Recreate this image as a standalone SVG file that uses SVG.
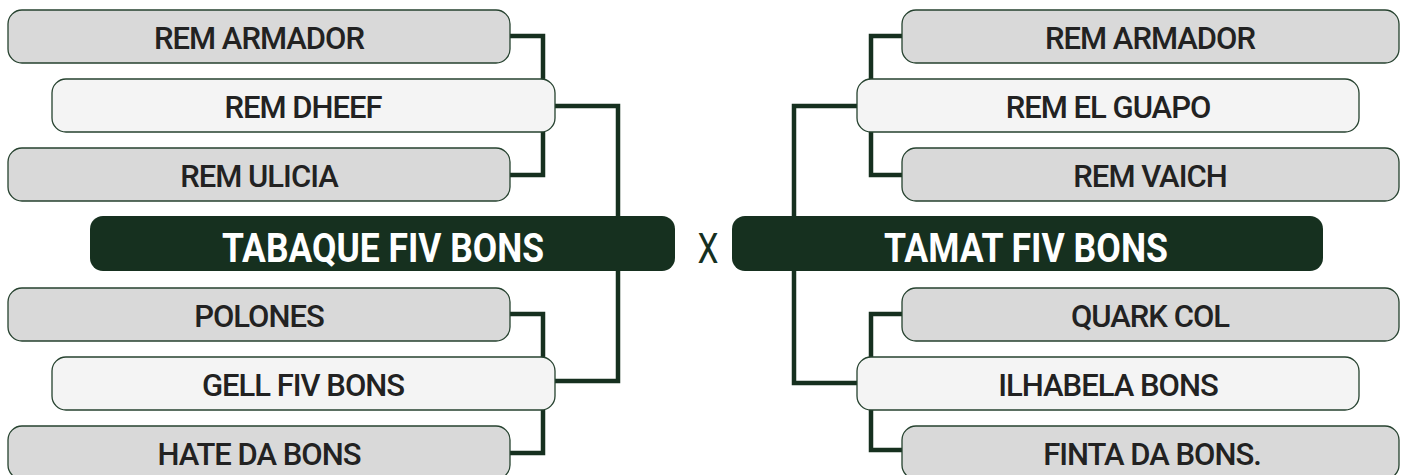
<svg xmlns="http://www.w3.org/2000/svg" width="1401" height="475" viewBox="0 0 1401 475">
<style>
.gray{fill:#d9d9d9;stroke:#26422f;stroke-width:1.3}
.white{fill:#f4f4f4;stroke:#26422f;stroke-width:1.3}
.bar{fill:#16301f}
.lbl{font-family:Roboto,"Liberation Sans",sans-serif;font-weight:500;font-size:31px;letter-spacing:-1px;fill:#222;text-anchor:middle}
.big{font-family:Roboto,"Liberation Sans",sans-serif;font-weight:700;font-size:40px;fill:#fff;text-anchor:middle}
.x{font-family:Roboto,"Liberation Sans",sans-serif;font-weight:400;font-size:42px;fill:#16301f;text-anchor:middle}
.conn{fill:none;stroke:#16301f;stroke-width:4.5}
</style>
<rect width="1401" height="475" fill="#fff"/>
<g id="connectors">
<path class="conn" d="M510,36 H543 V175 H510"/>
<path class="conn" d="M555,106 H618 V381 H555"/>
<path class="conn" d="M510,314 H543 V453 H510"/>
<path class="conn" d="M902,36 H871 V175 H902"/>
<path class="conn" d="M857,106 H794 V383 H857"/>
<path class="conn" d="M902,314 H871 V450 H902"/>
</g>
<g id="l-armador"><rect class="gray" x="8" y="10" width="502" height="53" rx="14"/><text class="lbl" x="259" y="49">REM ARMADOR</text></g>
<g id="l-dheef"><rect class="white" x="52" y="79" width="503" height="53" rx="14"/><text class="lbl" x="303" y="118">REM DHEEF</text></g>
<g id="l-ulicia"><rect class="gray" x="8" y="148" width="502" height="53" rx="14"/><text class="lbl" x="259" y="187">REM ULICIA</text></g>
<g id="team-left"><rect class="bar" x="90" y="216" width="585" height="55" rx="13"/><text class="big" x="383" y="262" textLength="322" lengthAdjust="spacingAndGlyphs">TABAQUE FIV BONS</text></g>
<g id="versus"><text class="x" x="708" y="263" textLength="21" lengthAdjust="spacingAndGlyphs">X</text></g>
<g id="team-right"><rect class="bar" x="732" y="216" width="591" height="55" rx="13"/><text class="big" x="1026" y="262" textLength="284" lengthAdjust="spacingAndGlyphs">TAMAT FIV BONS</text></g>
<g id="l-polones"><rect class="gray" x="8" y="288" width="502" height="53" rx="14"/><text class="lbl" x="259" y="327">POLONES</text></g>
<g id="l-gell"><rect class="white" x="52" y="357" width="503" height="53" rx="14"/><text class="lbl" x="303" y="396">GELL FIV BONS</text></g>
<g id="l-hate"><rect class="gray" x="8" y="426" width="502" height="53" rx="14"/><text class="lbl" x="259" y="465">HATE DA BONS</text></g>
<g id="r-armador"><rect class="gray" x="902" y="10" width="497" height="53" rx="14"/><text class="lbl" x="1150" y="49">REM ARMADOR</text></g>
<g id="r-guapo"><rect class="white" x="857" y="79" width="502" height="53" rx="14"/><text class="lbl" x="1108" y="118">REM EL GUAPO</text></g>
<g id="r-vaich"><rect class="gray" x="902" y="148" width="497" height="53" rx="14"/><text class="lbl" x="1150" y="187">REM VAICH</text></g>
<g id="r-quark"><rect class="gray" x="902" y="288" width="497" height="53" rx="14"/><text class="lbl" x="1150" y="327">QUARK COL</text></g>
<g id="r-ilhabela"><rect class="white" x="857" y="357" width="502" height="53" rx="14"/><text class="lbl" x="1108" y="396">ILHABELA BONS</text></g>
<g id="r-finta"><rect class="gray" x="902" y="426" width="497" height="53" rx="14"/><text class="lbl" x="1152" y="465">FINTA DA BONS.</text></g>
</svg>
